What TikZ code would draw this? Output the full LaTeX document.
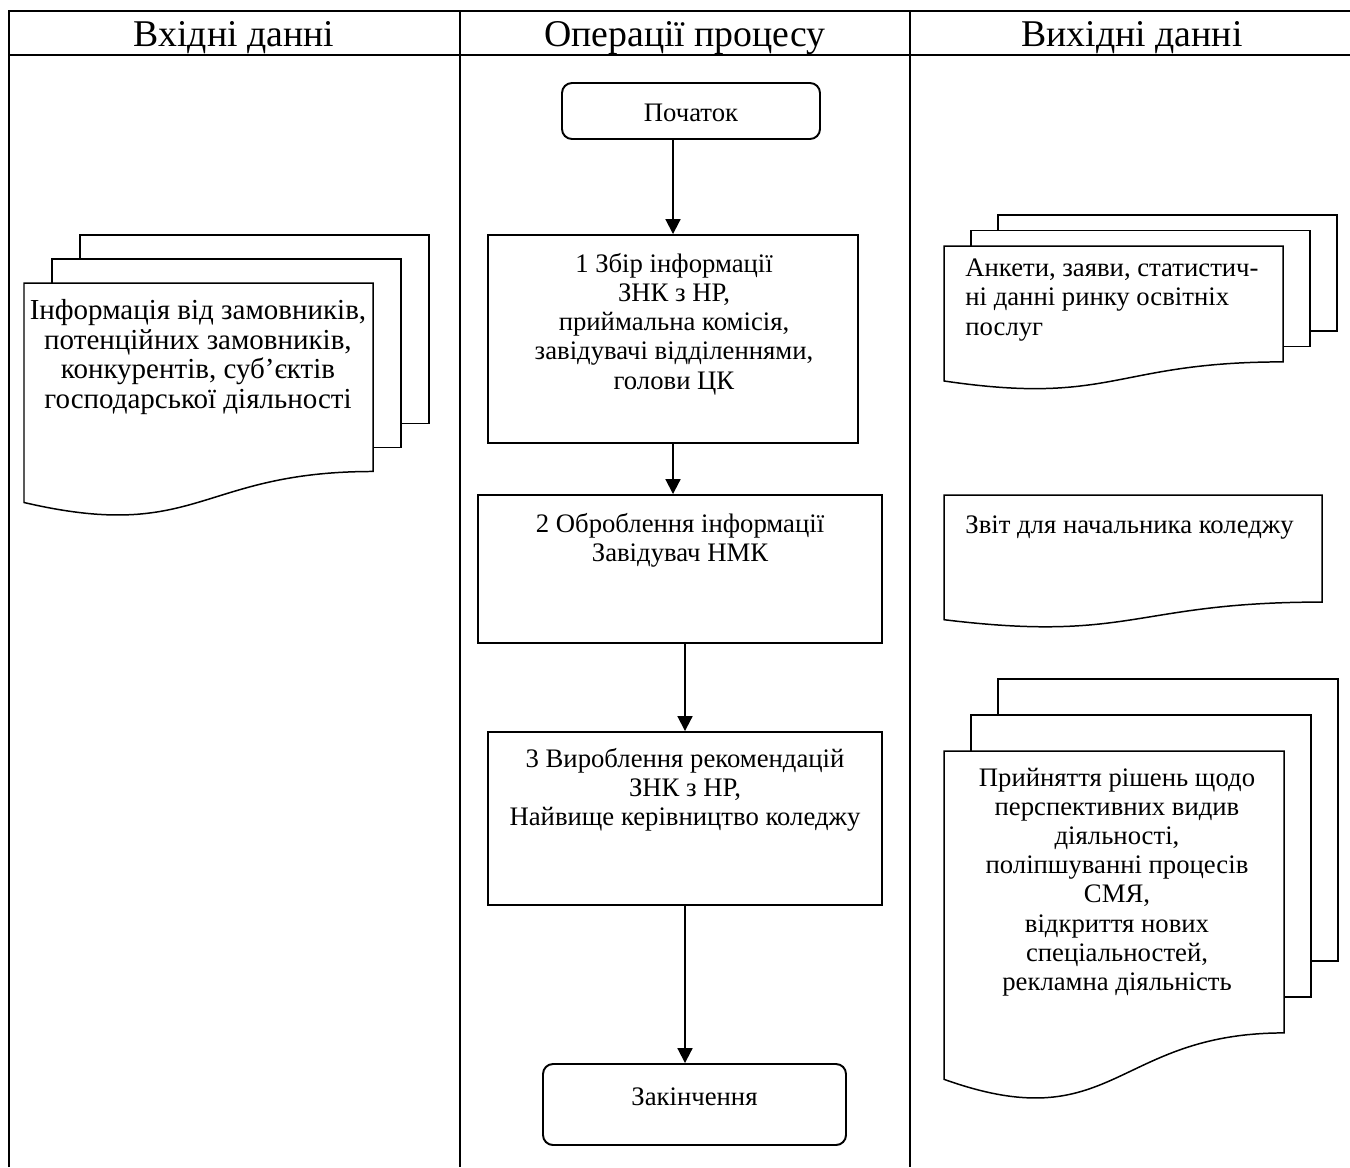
\documentclass[tikz,border=0pt]{standalone}
\usepackage{fontspec}
\setmainfont{Liberation Serif}
\usetikzlibrary{positioning,arrows.meta}

% document sheet: x, y (top left), width, full wave height
\newcommand{\docsheet}[4]{%
  \draw[docline, fill=white] (#1,#2) -- ({#1+#3},#2) -- ({#1+#3},{#2-0.802*#4})
    .. controls ({#1+0.5*#3},{#2-0.802*#4}) and ({#1+0.5*#3},{#2-1.107*#4}) ..
    (#1,{#2-0.934*#4}) -- cycle;}
% stack of three sheets: x, y, width, height, dx, dy
\newcommand{\docstack}[6]{%
  \draw[docline] ({#1+2*#5},{#2+#6}) -- ({#1+2*#5},{#2+2*#6}) -- ({#1+#3+2*#5},{#2+2*#6})
    -- ({#1+#3+2*#5},{#2-0.802*#4+2*#6}) -- ({#1+#3+#5},{#2-0.802*#4+2*#6});
  \draw[docline] ({#1+#5},#2) -- ({#1+#5},{#2+#6}) -- ({#1+#3+#5},{#2+#6})
    -- ({#1+#3+#5},{#2-0.802*#4+#6}) -- ({#1+#3},{#2-0.802*#4+#6});
  \docsheet{#1}{#2}{#3}{#4}}

\begin{document}
\begin{tikzpicture}[
  font=\fontsize{15.2pt}{16.6pt}\selectfont,
  frame/.style={line width=1pt},
  terminal/.style={draw, rectangle, rounded corners=0.2cm, line width=1.1pt},
  process/.style={draw, rectangle, line width=1.1pt},
  txt/.style={align=center, inner sep=0pt},
  big/.style={font=\fontsize{16.5pt}{17pt}\selectfont},
  head/.style={inner sep=0pt, font=\fontsize{21.5pt}{24pt}\selectfont},
  docline/.style={line width=0.85pt},
  arrow/.style={-{Triangle[width=8.5pt,length=8.5pt]}, line width=1.1pt}
]
\useasboundingbox (0,0) rectangle (27,-23.34);

% Table frame
\draw[frame] (0.18,-23.34) -- (0.18,-0.22) -- (27,-0.22);
\draw[frame] (0.18,-1.10) -- (27,-1.10);
\draw[frame] (9.2,-0.22) -- (9.2,-23.34);
\draw[frame] (18.2,-0.22) -- (18.2,-23.34);

% Headers
\node[head] (hIn) at (4.68,-0.76) {Вхідні данні};
\node[head] (hOp) at (13.70,-0.76) {Операції процесу};
\node[head] (hOut) at (22.64,-0.76) {Вихідні данні};

% Process operations
\node[terminal, minimum width=5.16cm, minimum height=1.12cm] (start) at (13.82,-2.22) {};
\node[process, minimum width=7.40cm, minimum height=4.16cm] (box1) at (13.46,-6.78) {};
\node[process, minimum width=8.08cm, minimum height=2.96cm] (box2) at (13.60,-11.38) {};
\node[process, minimum width=7.88cm, minimum height=3.46cm] (box3) at (13.70,-16.37) {};
\node[terminal, minimum width=6.06cm, minimum height=1.62cm] (finish) at (13.89,-22.09) {};

\node[txt] (startT) at (13.82,-2.26) {Початок};
\node[txt] (box1T) at (13.48,-6.48) {1 Збір інформації\\ЗНК з НР,\\приймальна комісія,\\завідувачі відділеннями,\\голови ЦК};
\node[txt] (box2T) at (13.60,-10.80) {2 Оброблення інформації\\Завідувач НМК};
\node[txt] (box3T) at (13.70,-15.80) {3 Вироблення рекомендацій\\ЗНК з НР,\\Найвище керівництво коледжу};
\node[txt] (finishT) at (13.89,-21.94) {Закінчення};

% Flow
\draw[arrow] (start.south -| box1.north) -- (box1.north);
\draw[arrow] (box1.south) -- (box1.south |- box2.north);
\draw[arrow] (box3.north |- box2.south) -- (box3.north);
\draw[arrow] (box3.south) -- (box3.south |- finish.north);

% Input documents
\docstack{0.48}{-5.66}{6.98}{4.70}{0.56}{0.48}
\node[txt, big] (inDoc) at (3.96,-7.14) {Інформація від замовників,\\потенційних замовників,\\конкурентів, суб’єктів\\господарської діяльності};

% Output documents
\docstack{18.88}{-4.92}{6.78}{2.89}{0.54}{0.31}
\node[txt, anchor=west, align=left] (outA) at (19.30,-6.00) {Анкети, заяви, статистич-\\ні данні ринку освітніх\\послуг};

\docsheet{18.88}{-9.90}{7.56}{2.67}
\node[txt, anchor=west, align=left] (outB) at (19.30,-10.56) {Звіт для начальника коледжу};

\docstack{18.88}{-15.02}{6.80}{7.03}{0.54}{0.72}
\node[txt] (outC) at (22.34,-17.64) {Прийняття рішень щодо\\перспективних видив\\діяльності,\\поліпшуванні процесів\\СМЯ,\\відкриття нових\\спеціальностей,\\рекламна діяльність};

\end{tikzpicture}
\end{document}
